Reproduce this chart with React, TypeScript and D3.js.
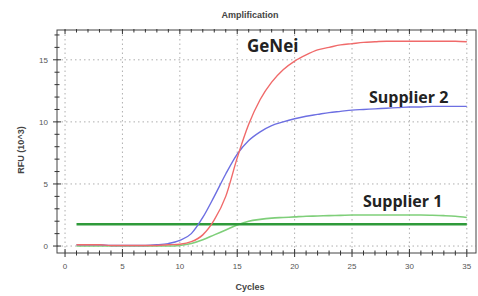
import React, { useEffect, useRef } from 'react';
import * as d3 from 'd3';

// cycles 1..35
const cycles = d3.range(1, 36);

const geNei = [
  0.1, 0.1, 0.1, 0.05, 0.05, 0.05, 0.05, 0.05, 0.1, 0.15,
  0.35, 0.9, 2.1, 4.0, 7.1, 9.8, 11.8, 13.2, 14.2, 14.9,
  15.4, 15.8, 16.0, 16.2, 16.3, 16.4, 16.45, 16.5, 16.5, 16.5,
  16.5, 16.5, 16.5, 16.5, 16.45,
];

const supplier2 = [
  0.1, 0.1, 0.1, 0.05, 0.05, 0.05, 0.05, 0.1, 0.2, 0.45,
  1.0, 2.3, 4.0, 5.8, 7.4, 8.5, 9.2, 9.7, 10.0, 10.25,
  10.45, 10.6, 10.75, 10.85, 10.95, 11.0, 11.05, 11.1, 11.15, 11.2,
  11.2, 11.25, 11.25, 11.25, 11.25,
];

const supplier1 = [
  0, 0, 0, 0, 0, 0, 0, 0, 0, 0.05,
  0.2, 0.5, 0.9, 1.3, 1.7, 2.0, 2.15, 2.25, 2.3, 2.35,
  2.4, 2.42, 2.45, 2.47, 2.5, 2.5, 2.5, 2.5, 2.5, 2.5,
  2.5, 2.48, 2.45, 2.4, 2.3,
];

const threshold = 1.75;

const xTicks = [0, 5, 10, 15, 20, 25, 30, 35];
const yTicks = [0, 5, 10, 15];

const W = 478, H = 296;

const App = () => {
  const svgRef = useRef<SVGSVGElement>(null);

  useEffect(() => {
    const svg = d3.select(svgRef.current);
    svg.selectAll('*').remove();

    const left = 57, right = 476, top = 30, bottom = 253;

    const x = d3.scaleLinear().domain([-0.7, 35.8]).range([left, right]);
    const y = d3.scaleLinear().domain([-0.56, 17.4]).range([bottom, top]);

    svg.append('rect').attr('width', W).attr('height', H).attr('fill', 'white');

    // grid
    const grid = svg.append('g').attr('stroke', '#9a9a9a').attr('stroke-width', 0.8).attr('stroke-dasharray', '1.5,3');
    xTicks.forEach(t => {
      grid.append('line').attr('x1', x(t)).attr('x2', x(t)).attr('y1', top).attr('y2', bottom);
    });
    yTicks.forEach(t => {
      grid.append('line').attr('x1', left).attr('x2', right).attr('y1', y(t)).attr('y2', y(t));
    });

    // frame
    svg.append('rect')
      .attr('x', left).attr('y', top)
      .attr('width', right - left).attr('height', bottom - top)
      .attr('fill', 'none').attr('stroke', '#444').attr('stroke-width', 1);

    // ticks (crossing the axes)
    const ticks = svg.append('g').attr('stroke', '#333').attr('stroke-width', 1);
    d3.range(0, 36).forEach(t => {
      const major = t % 5 === 0;
      const len = major ? 4 : 2.5;
      ticks.append('line').attr('x1', x(t)).attr('x2', x(t)).attr('y1', bottom - len).attr('y2', bottom + len);
      ticks.append('line').attr('x1', x(t)).attr('x2', x(t)).attr('y1', top - 1).attr('y2', top + len);
    });
    d3.range(0, 18).forEach(t => {
      const major = t % 5 === 0;
      const len = major ? 4 : 2.5;
      ticks.append('line').attr('x1', left - len).attr('x2', left + len).attr('y1', y(t)).attr('y2', y(t));
    });

    const font = 'Liberation Sans, Arial, sans-serif';

    // tick labels
    svg.append('g').selectAll('text').data(xTicks).enter().append('text')
      .attr('x', d => x(d)).attr('y', bottom + 16)
      .attr('text-anchor', 'middle')
      .attr('font-family', font).attr('font-size', 8).attr('fill', '#555')
      .text(d => d);
    svg.append('g').selectAll('text').data(yTicks).enter().append('text')
      .attr('x', left - 9).attr('y', d => y(d) + 3)
      .attr('text-anchor', 'end')
      .attr('font-family', font).attr('font-size', 8).attr('fill', '#555')
      .text(d => d);

    // titles
    svg.append('text').attr('x', 250).attr('y', 18).attr('text-anchor', 'middle')
      .attr('font-family', font).attr('font-size', 9).attr('font-weight', 'bold').attr('fill', '#444')
      .text('Amplification');
    svg.append('text').attr('x', 250).attr('y', 290).attr('text-anchor', 'middle')
      .attr('font-family', font).attr('font-size', 9).attr('font-weight', 'bold').attr('fill', '#444')
      .text('Cycles');
    svg.append('text').attr('transform', `translate(24,${150}) rotate(-90)`).attr('text-anchor', 'middle')
      .attr('font-family', font).attr('font-size', 9).attr('font-weight', 'bold').attr('fill', '#444')
      .text('RFU (10^3)');

    const line = (vals: number[]) => d3.line<number>()
      .x((_, i) => x(cycles[i]))
      .y(d => y(d))
      .curve(d3.curveMonotoneX)(vals);

    const plot = svg.append('g');
    plot.append('path').attr('d', line(supplier1)).attr('fill', 'none')
      .attr('stroke', '#7fcf7a').attr('stroke-width', 1.6);
    plot.append('path').attr('d', line(cycles.map(() => threshold))).attr('fill', 'none')
      .attr('stroke', '#2f9a3a').attr('stroke-width', 2.6);
    plot.append('path').attr('d', line(supplier2)).attr('fill', 'none')
      .attr('stroke', '#6d6fe2').attr('stroke-width', 1.4);
    plot.append('path').attr('d', line(geNei)).attr('fill', 'none')
      .attr('stroke', '#f06a6a').attr('stroke-width', 1.4);

    // annotations
    const ann = 'Open Sans, Liberation Sans, sans-serif';
    svg.append('text').attr('x', 247).attr('y', 52)
      .attr('font-family', ann).attr('font-size', 17).attr('font-weight', 'bold').attr('fill', '#222')
      .text('GeNei');
    svg.append('text').attr('x', 369).attr('y', 103)
      .attr('font-family', ann).attr('font-size', 16).attr('font-weight', 'bold').attr('fill', '#222')
      .text('Supplier 2');
    svg.append('text').attr('x', 363).attr('y', 207)
      .attr('font-family', ann).attr('font-size', 16).attr('font-weight', 'bold').attr('fill', '#222')
      .text('Supplier 1');
  }, []);

  return (
    <svg ref={svgRef} width={W} height={H}
      style={{ position: 'absolute', left: 0, top: 0, display: 'block' }} />
  );
};

export default App;
